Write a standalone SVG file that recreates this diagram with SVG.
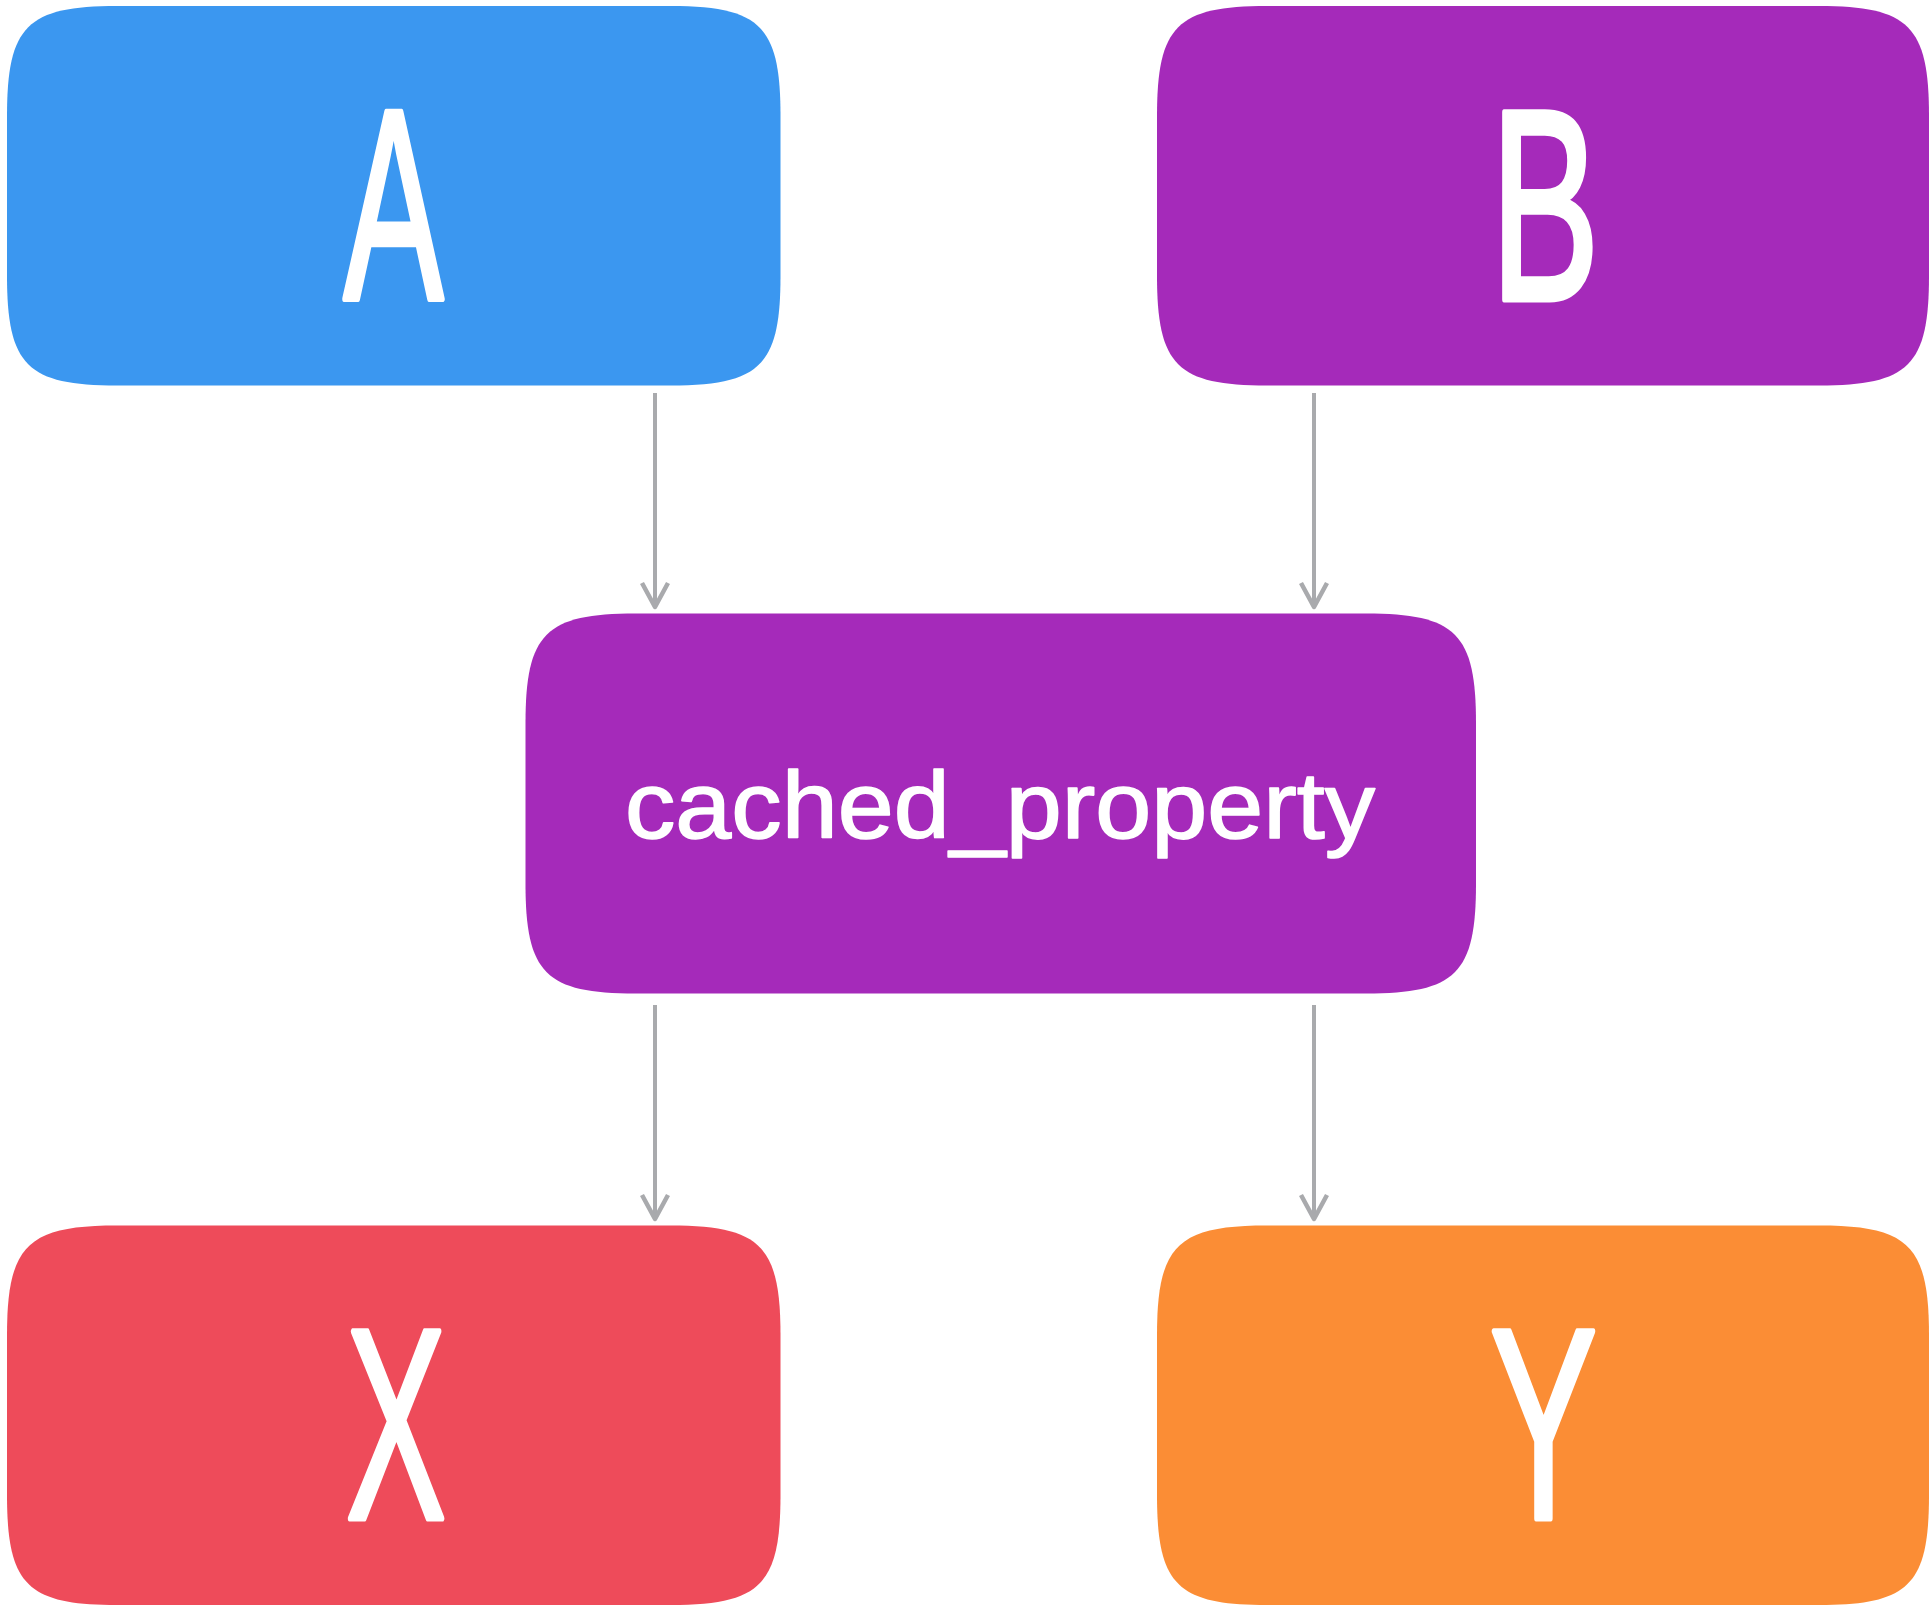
<svg xmlns="http://www.w3.org/2000/svg" width="1932" height="1611" viewBox="0 0 1932 1611">
<style>
.box{stroke:none}
.big{font-family:"Liberation Sans",Arial,sans-serif;font-size:272px;fill:#fff;stroke:#fff;stroke-width:6px;stroke-linejoin:round;text-anchor:middle}
.mid{font-family:"Liberation Sans",Arial,sans-serif;font-size:95px;fill:#fff;stroke:#fff;stroke-width:1.6px;stroke-linejoin:round}
.edge{stroke:#a9aaad;stroke-width:4;fill:none;marker-end:url(#arr)}
</style>
<defs>
<marker id="arr" markerUnits="userSpaceOnUse" orient="auto" refX="0" refY="0" markerWidth="40" markerHeight="40" viewBox="-30 -20 40 40" overflow="visible">
<path d="M-24,-13 L0,0 L-24,13" fill="none" stroke="#a9aaad" stroke-width="4.5" stroke-linejoin="round"/>
</marker>
</defs>
<rect width="1932" height="1611" fill="#fff"/>
<g id="connectors">
<line class="edge" x1="655" y1="393" x2="655" y2="607"/>
<line class="edge" x1="1314" y1="393" x2="1314" y2="607"/>
<line class="edge" x1="655" y1="1005" x2="655" y2="1219"/>
<line class="edge" x1="1314" y1="1005" x2="1314" y2="1219"/>
</g>
<g id="node-A">
<path class="box" fill="#3b97f0" d="M117,6 H670.5 C760.5,6 780.5,26 780.5,116 V275.5 C780.5,365.5 760.5,385.5 670.5,385.5 H117 C27,385.5 7,365.5 7,275.5 V116 C7,26 27,6 117,6 Z"/>
<text class="big" transform="translate(393.5,299) scale(0.55,1)">A</text>
</g>
<g id="node-B">
<path class="box" fill="#a52aba" d="M1267,6 H1819 C1909,6 1929,26 1929,116 V275.5 C1929,365.5 1909,385.5 1819,385.5 H1267 C1177,385.5 1157,365.5 1157,275.5 V116 C1157,26 1177,6 1267,6 Z"/>
<text class="big" transform="translate(1545,299.5) scale(0.6,1)">B</text>
</g>
<g id="node-cached_property">
<path class="box" fill="#a52aba" d="M635.5,613.5 H1366 C1456,613.5 1476,633.5 1476,723.5 V883.5 C1476,973.5 1456,993.5 1366,993.5 H635.5 C545.5,993.5 525.5,973.5 525.5,883.5 V723.5 C525.5,633.5 545.5,613.5 635.5,613.5 Z"/>
<text class="mid" x="625" y="838" textLength="750" lengthAdjust="spacingAndGlyphs">cached_property</text>
</g>
<g id="node-X">
<path class="box" fill="#ee4b5a" d="M117,1225.5 H670.5 C760.5,1225.5 780.5,1245.5 780.5,1335.5 V1495 C780.5,1585 760.5,1605 670.5,1605 H117 C27,1605 7,1585 7,1495 V1335.5 C7,1245.5 27,1225.5 117,1225.5 Z"/>
<text class="big" transform="translate(396,1518.5) scale(0.55,1)">X</text>
</g>
<g id="node-Y">
<path class="box" fill="#fb8d35" d="M1267,1225.5 H1819 C1909,1225.5 1929,1245.5 1929,1335.5 V1495 C1929,1585 1909,1605 1819,1605 H1267 C1177,1605 1157,1585 1157,1495 V1335.5 C1157,1245.5 1177,1225.5 1267,1225.5 Z"/>
<text class="big" transform="translate(1543.5,1518.5) scale(0.59,1)">Y</text>
</g>
</svg>
